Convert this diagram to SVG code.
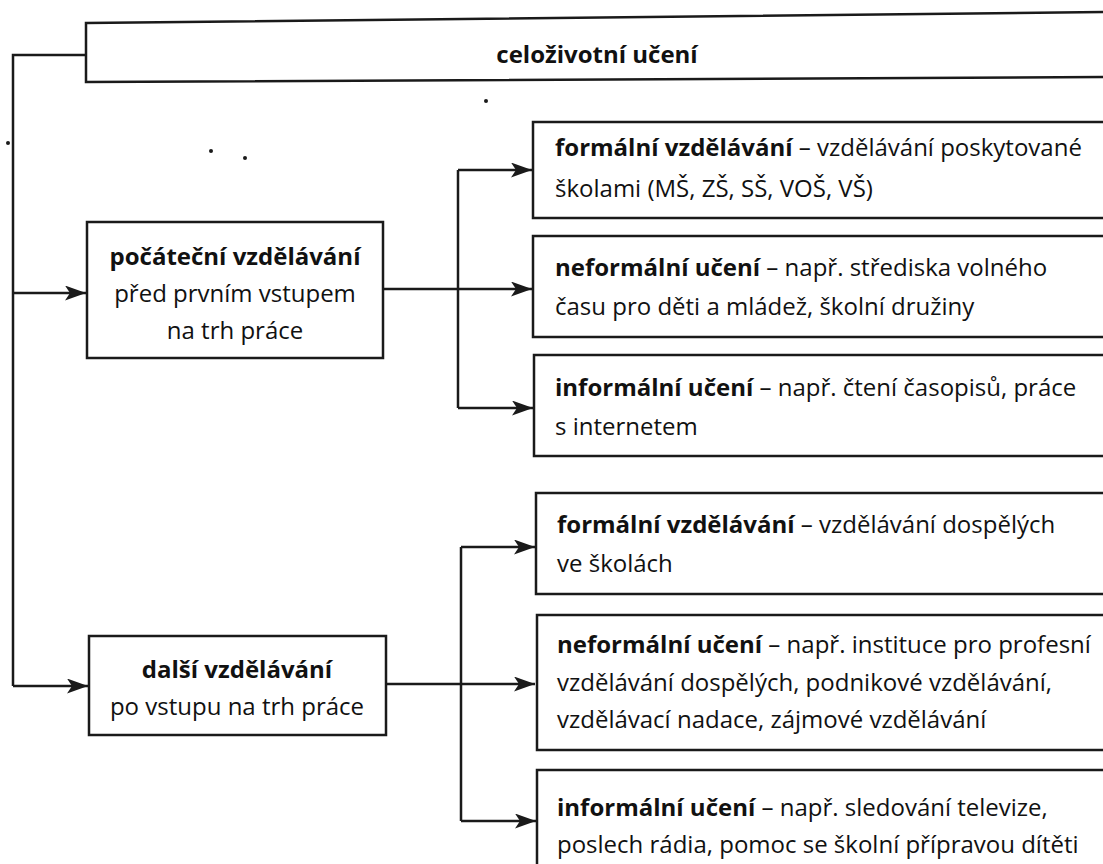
<svg xmlns="http://www.w3.org/2000/svg" width="1103" height="864" viewBox="0 0 1103 864">
<defs>
<style>
.box{fill:#fff;stroke:#1a1a1a;stroke-width:2.5}
.ln{fill:none;stroke:#1a1a1a;stroke-width:2.5}
.arr{fill:none;stroke:#1a1a1a;stroke-width:2.5;marker-end:url(#ah)}
text{font-family:"Open Sans","Noto Sans","Liberation Sans",sans-serif;font-size:24px;fill:#111}
.b{font-weight:bold}
.c{text-anchor:middle}
</style>
<marker id="ah" markerWidth="22" markerHeight="16" refX="21" refY="7.5" orient="auto" markerUnits="userSpaceOnUse">
<path d="M0,0 L21,7.5 L0,15 L5,7.5 z" fill="#1a1a1a"/>
</marker>
</defs>
<rect width="1103" height="864" fill="#fff"/>

<g id="connectors">
<path class="ln" d="M86,55 L13,55 L13,686"/>
<path class="arr" d="M13,293 L86,293"/>
<path class="arr" d="M13,686 L88,686"/>
<path class="arr" d="M383,289 L532,289"/>
<path class="ln" d="M458,170 L458,408"/>
<path class="arr" d="M458,170 L532,170"/>
<path class="arr" d="M458,408 L533,408"/>
<path class="arr" d="M386,684 L535,684"/>
<path class="ln" d="M461,547 L461,821"/>
<path class="arr" d="M461,547 L535,547"/>
<path class="arr" d="M461,821 L536,821"/>
</g>

<g id="n-celozivotni">
<polygon class="box" points="86,23 1110,12 1110,77 86,82"/>
<text class="b c" x="597" y="63">celoživotní učení</text>
</g>

<g id="n-pocatecni">
<rect class="box" x="87" y="222" width="296" height="136"/>
<text class="b c" x="235" y="265">počáteční vzdělávání</text>
<text class="c" x="235" y="302">před prvním vstupem</text>
<text class="c" x="235" y="339">na trh práce</text>
</g>

<g id="n-dalsi">
<rect class="box" x="89" y="636" width="297" height="99"/>
<text class="b c" x="237" y="678">další vzdělávání</text>
<text class="c" x="237" y="715">po vstupu na trh práce</text>
</g>

<g id="n-formalni1">
<rect class="box" x="533" y="122" width="580" height="96"/>
<text x="555" y="156"><tspan class="b">formální vzdělávání</tspan> – vzdělávání poskytované</text>
<text x="555" y="197">školami (MŠ, ZŠ, SŠ, VOŠ, VŠ)</text>
</g>

<g id="n-neformalni1">
<rect class="box" x="533" y="236" width="580" height="101"/>
<text x="555" y="276"><tspan class="b">neformální učení</tspan> – např. střediska volného</text>
<text x="555" y="315">času pro děti a mládež, školní družiny</text>
</g>

<g id="n-informalni1">
<rect class="box" x="534" y="355" width="580" height="101"/>
<text x="555" y="396"><tspan class="b">informální učení</tspan> – např. čtení časopisů, práce</text>
<text x="555" y="435">s internetem</text>
</g>

<g id="n-formalni2">
<rect class="box" x="536" y="493" width="580" height="101"/>
<text x="557" y="533"><tspan class="b">formální vzdělávání</tspan> – vzdělávání dospělých</text>
<text x="557" y="572">ve školách</text>
</g>

<g id="n-neformalni2">
<rect class="box" x="537" y="615" width="580" height="135"/>
<text x="557" y="653"><tspan class="b">neformální učení</tspan> – např. instituce pro profesní</text>
<text x="557" y="691">vzdělávání dospělých, podnikové vzdělávání,</text>
<text x="557" y="728">vzdělávací nadace, zájmové vzdělávání</text>
</g>

<g id="n-informalni2">
<rect class="box" x="537" y="770" width="580" height="110"/>
<text x="557" y="816"><tspan class="b">informální učení</tspan> – např. sledování televize,</text>
<text x="557" y="853">poslech rádia, pomoc se školní přípravou dítěti</text>
</g>

<g id="specks" fill="#1a1a1a">
<circle cx="486" cy="101" r="2"/>
<circle cx="8" cy="143" r="2"/>
<circle cx="211" cy="151" r="2"/>
<circle cx="245" cy="158" r="2"/>
</g>
</svg>
